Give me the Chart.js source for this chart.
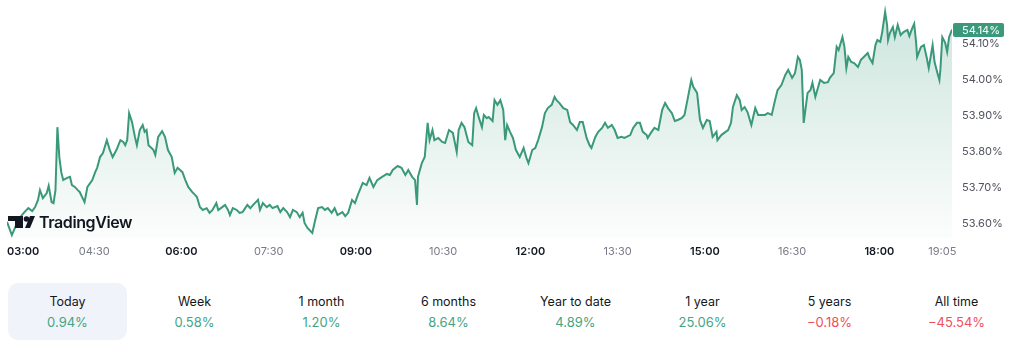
<!DOCTYPE html>
<html>
<head>
<meta charset="utf-8">
<script src="https://cdn.jsdelivr.net/npm/chart.js@4.4.1/dist/chart.umd.min.js"></script>
<style>
  html, body { margin: 0; padding: 0; background: #ffffff; }
  body { width: 1024px; height: 344px; overflow: hidden; font-family: Inter, "Noto Sans", sans-serif; }
  #wrap { position: relative; width: 1024px; height: 268px; }
  #periods { position: absolute; left: 4px; top: 283px; display: flex; }
  .period { width: 119px; height: 57px; margin: 0 4px; border-radius: 10px; text-align: center; box-sizing: border-box; padding-top: 11px; }
  .period.active { background: #f0f3fa; }
  .period .name { font-size: 12.5px; line-height: 16px; color: #131722; }
  .period .chg { font-size: 13px; line-height: 16px; margin-top: 4px; }
</style>
</head>
<body>
<div id="wrap"><canvas id="chart" width="1024" height="268"></canvas></div>
<div id="periods"></div>
<script>
// Session start (03:00) and sample times in minutes after it
const startHour = 3;
const minutes = [
  0, 5, 9, 13, 18, 22, 26, 29, 32, 34, 37, 41, 43, 46, 48, 50, 52, 54, 56, 58,
  62, 65, 67, 70, 73, 75, 78, 80, 83, 88, 91, 93, 96, 99, 103, 106, 109, 113, 117, 120,
  122, 124, 126, 129, 132, 134, 137, 140, 142, 144, 146, 151, 153, 156, 160, 163, 166, 170, 173, 176,
  181, 184, 187, 191, 194, 196, 199, 202, 206, 209, 212, 216, 218, 222, 225, 228, 230, 233, 237, 240,
  243, 248, 251, 254, 259, 261, 264, 268, 271, 274, 279, 282, 285, 289, 292, 295, 299, 302, 305, 307,
  310, 315, 318, 321, 325, 328, 331, 335, 338, 341, 346, 349, 352, 356, 359, 362, 367, 371, 374, 378,
  382, 387, 392, 395, 398, 403, 407, 411, 414, 418, 421, 423, 424, 428, 431, 434, 436, 439, 441, 445,
  449, 452, 456, 460, 464, 466, 469, 472, 476, 480, 482, 484, 487, 490, 492, 495, 497, 501, 503, 506,
  509, 512, 514, 516, 519, 522, 525, 529, 533, 535, 536, 538, 542, 545, 548, 552, 555, 558, 562, 565,
  567, 570, 574, 578, 581, 584, 588, 591, 594, 598, 601, 603, 607, 610, 614, 617, 620, 624, 627, 630,
  634, 637, 643, 646, 650, 653, 656, 660, 661, 665, 668, 672, 676, 679, 682, 686, 689, 692, 696, 699,
  702, 706, 708, 712, 715, 718, 722, 725, 728, 732, 733, 737, 740, 744, 747, 749, 753, 756, 758, 761,
  764, 768, 772, 775, 779, 782, 785, 789, 792, 795, 799, 803, 806, 810, 813, 816, 818, 820, 822, 826,
  829, 831, 834, 837, 839, 843, 847, 849, 853, 856, 858, 862, 864, 866, 868, 871, 874, 878, 881, 884,
  888, 890, 893, 896, 898, 901, 903, 906, 908, 909, 911, 914, 916, 919, 922, 925, 929, 931, 934, 936,
  938, 939, 943, 946, 949, 951, 955, 957, 960, 962, 963, 965, 968, 970, 972, 975
];
// Yield, percent
const values = [
  53.606, 53.569, 53.594, 53.617, 53.633, 53.644, 53.636, 53.647, 53.667, 53.694, 53.672, 53.686, 53.706, 53.661, 53.658, 53.694, 53.869, 53.786, 53.744, 53.722,
  53.728, 53.731, 53.708, 53.703, 53.694, 53.689, 53.672, 53.661, 53.703, 53.722, 53.744, 53.756, 53.786, 53.797, 53.833, 53.806, 53.786, 53.806, 53.833, 53.828,
  53.819, 53.833, 53.908, 53.883, 53.842, 53.819, 53.861, 53.875, 53.856, 53.861, 53.819, 53.806, 53.792, 53.842, 53.858, 53.842, 53.806, 53.786, 53.742, 53.756,
  53.744, 53.722, 53.703, 53.689, 53.681, 53.675, 53.647, 53.639, 53.644, 53.631, 53.639, 53.658, 53.639, 53.647, 53.653, 53.639, 53.625, 53.644, 53.639, 53.631,
  53.633, 53.653, 53.644, 53.653, 53.667, 53.639, 53.658, 53.647, 53.653, 53.644, 53.650, 53.633, 53.644, 53.633, 53.619, 53.639, 53.633, 53.619, 53.631, 53.603,
  53.589, 53.575, 53.611, 53.644, 53.647, 53.639, 53.644, 53.631, 53.644, 53.625, 53.633, 53.622, 53.631, 53.667, 53.658, 53.681, 53.714, 53.708, 53.728, 53.703,
  53.722, 53.731, 53.739, 53.736, 53.750, 53.761, 53.756, 53.736, 53.750, 53.731, 53.722, 53.653, 53.731, 53.769, 53.786, 53.881, 53.833, 53.861, 53.833, 53.839,
  53.828, 53.825, 53.861, 53.853, 53.800, 53.861, 53.881, 53.869, 53.828, 53.819, 53.908, 53.922, 53.894, 53.869, 53.903, 53.894, 53.897, 53.886, 53.944, 53.931,
  53.944, 53.917, 53.833, 53.875, 53.856, 53.839, 53.806, 53.786, 53.811, 53.792, 53.783, 53.769, 53.806, 53.811, 53.833, 53.869, 53.908, 53.922, 53.931, 53.953,
  53.944, 53.936, 53.922, 53.917, 53.883, 53.875, 53.861, 53.883, 53.883, 53.839, 53.819, 53.811, 53.842, 53.856, 53.867, 53.881, 53.867, 53.875, 53.861, 53.839,
  53.842, 53.839, 53.847, 53.867, 53.881, 53.881, 53.856, 53.847, 53.839, 53.856, 53.867, 53.861, 53.917, 53.936, 53.922, 53.908, 53.886, 53.889, 53.894, 53.903,
  53.944, 54.000, 53.981, 53.964, 53.889, 53.867, 53.889, 53.886, 53.842, 53.856, 53.833, 53.847, 53.853, 53.861, 53.881, 53.925, 53.958, 53.944, 53.917, 53.925,
  53.911, 53.875, 53.922, 53.903, 53.903, 53.903, 53.908, 53.903, 53.939, 53.972, 53.986, 54.014, 54.028, 54.006, 54.019, 54.064, 54.056, 54.028, 53.881, 53.964,
  53.972, 53.992, 53.953, 53.981, 54.000, 53.992, 53.994, 54.006, 54.019, 54.092, 54.083, 54.119, 54.092, 54.033, 54.064, 54.050, 54.047, 54.036, 54.056, 54.064,
  54.075, 54.061, 54.047, 54.097, 54.111, 54.106, 54.133, 54.189, 54.153, 54.111, 54.131, 54.147, 54.119, 54.153, 54.125, 54.133, 54.139, 54.122, 54.144, 54.156,
  54.103, 54.064, 54.092, 54.097, 54.061, 54.033, 54.097, 54.050, 54.019, 54.000, 54.028, 54.119, 54.103, 54.078, 54.119, 54.14
];
// Axis labels
const xTickMinutes = [0, 90, 180, 270, 360, 450, 540, 630, 720, 810, 900, 965];
const yTicks = [53.6, 53.7, 53.8, 53.9, 54.0, 54.1];
// Performance strip
const periodLabels = ['Today', 'Week', '1 month', '6 months', 'Year to date', '1 year', '5 years', 'All time'];
const periodChanges = [0.94, 0.58, 1.20, 8.64, 4.89, 25.06, -0.18, -45.54];

const LINE = '#3a997b';
const UP = '#46a483';
const DOWN = '#ef4f5b';
const FONT = 'Inter, "Noto Sans", sans-serif';
const X_END = 975;

function clock(m) {
  const h = startHour + Math.floor(m / 60);
  const mm = m % 60;
  return String(h).padStart(2, '0') + ':' + String(mm).padStart(2, '0');
}

// Last-value tag on the price scale
const priceTag = {
  id: 'priceTag',
  afterDraw(chart) {
    const { ctx, chartArea, scales } = chart;
    const v = values[values.length - 1];
    const y = scales.y.getPixelForValue(v);
    const x = chartArea.right + 1;
    ctx.save();
    ctx.fillStyle = LINE;
    ctx.beginPath();
    ctx.roundRect(x, Math.round(y) - 7, 51, 14, 2);
    ctx.fill();
    ctx.fillStyle = '#ffffff';
    ctx.font = '11px ' + FONT;
    ctx.textBaseline = 'middle';
    ctx.textAlign = 'left';
    ctx.fillText(v.toFixed(2) + '%', x + 9, Math.round(y) + 0.5);
    ctx.restore();
  }
};

// Watermark in the lower-left corner
const watermark = {
  id: 'watermark',
  afterDatasetsDraw(chart) {
    const { ctx } = chart;
    ctx.save();
    ctx.fillStyle = '#131722';
    // "T" block
    ctx.fillRect(8, 216, 15, 5);
    ctx.fillRect(15, 216, 8, 12);
    // dot
    ctx.beginPath();
    ctx.arc(26.5, 219, 2.8, 0, Math.PI * 2);
    ctx.fill();
    // slash
    ctx.beginPath();
    ctx.moveTo(30, 216);
    ctx.lineTo(35, 216);
    ctx.lineTo(30, 228);
    ctx.lineTo(25, 228);
    ctx.closePath();
    ctx.fill();
    ctx.font = '600 16px ' + FONT;
    ctx.letterSpacing = '-0.4px';
    ctx.textBaseline = 'alphabetic';
    ctx.fillText('TradingView', 39, 228);
    ctx.restore();
  }
};

const ctx = document.getElementById('chart').getContext('2d');
new Chart(ctx, {
  type: 'line',
  data: {
    datasets: [{
      data: minutes.map((m, i) => ({ x: m, y: values[i] })),
      borderColor: LINE,
      borderWidth: 2,
      pointRadius: 0,
      tension: 0,
      fill: 'start',
      backgroundColor: (c) => {
        const a = c.chart.chartArea;
        if (!a) return 'rgba(58,153,123,0.1)';
        const g = c.chart.ctx.createLinearGradient(0, a.top, 0, a.bottom);
        g.addColorStop(0, 'rgba(58,153,123,0.26)');
        g.addColorStop(1, 'rgba(58,153,123,0.02)');
        return g;
      }
    }]
  },
  options: {
    responsive: false,
    animation: false,
    devicePixelRatio: 1,
    layout: { padding: { left: 7, top: 5, right: 0, bottom: 0 } },
    plugins: { legend: { display: false }, tooltip: { enabled: false } },
    scales: {
      x: {
        type: 'linear',
        min: 0,
        max: X_END,
        grid: { display: false, drawTicks: false },
        border: { display: false },
        afterBuildTicks: (s) => {
          s.ticks = xTickMinutes.map(v => ({ value: v })).concat([{ value: X_END }]);
        },
        afterFit: (s) => { s.height = 30; s.paddingLeft = 0; s.paddingRight = 0; },
        ticks: {
          autoSkip: false,
          maxRotation: 0,
          align: 'inner',
          padding: 7,
          callback: (v) => (v === X_END ? '' : clock(v)),
          font: (c) => {
            const v = c.tick ? c.tick.value : 0;
            return { family: FONT, size: 11, weight: (v % 180 === 0) ? '600' : '400' };
          },
          color: (c) => {
            const v = c.tick ? c.tick.value : 0;
            return (v % 180 === 0) ? '#131722' : '#787b86';
          }
        }
      },
      y: {
        position: 'right',
        min: 53.6 - 14 / 360,
        max: 53.6 + 219 / 360,
        grid: { display: false, drawTicks: false },
        border: { display: false },
        afterBuildTicks: (s) => { s.ticks = yTicks.map(v => ({ value: v })); },
        afterFit: (s) => { s.width = 72; s.paddingTop = 0; s.paddingBottom = 0; },
        ticks: {
          padding: 10,
          color: '#50535e',
          font: { family: FONT, size: 11 },
          callback: (v) => v.toFixed(2) + '%'
        }
      }
    }
  },
  plugins: [watermark, priceTag]
});

// Period performance row
const strip = document.getElementById('periods');
periodLabels.forEach((name, i) => {
  const c = periodChanges[i];
  const cell = document.createElement('div');
  cell.className = 'period' + (i === 0 ? ' active' : '');
  const n = document.createElement('div');
  n.className = 'name';
  n.textContent = name;
  const v = document.createElement('div');
  v.className = 'chg';
  v.style.color = c < 0 ? DOWN : UP;
  v.textContent = (c < 0 ? '\u2212' : '') + Math.abs(c).toFixed(2) + '%';
  cell.appendChild(n);
  cell.appendChild(v);
  strip.appendChild(cell);
});
</script>
</body>
</html>
